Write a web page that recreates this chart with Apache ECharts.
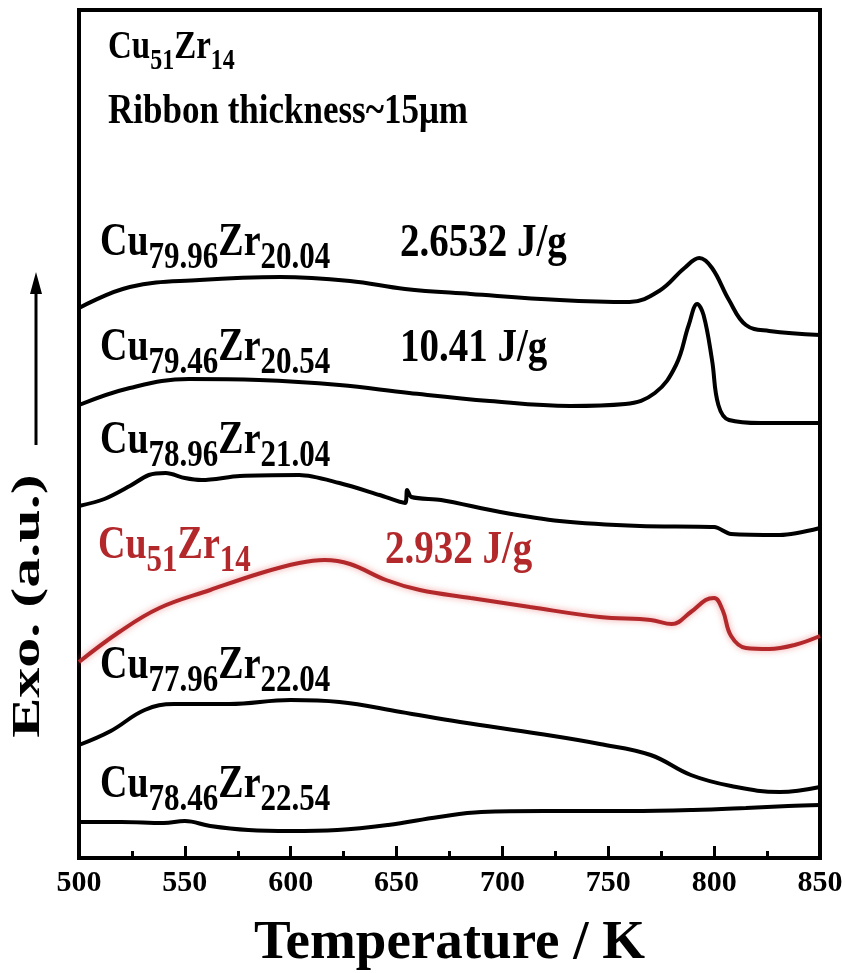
<!DOCTYPE html>
<html><head><meta charset="utf-8">
<script src="https://cdn.jsdelivr.net/npm/echarts@6/dist/echarts.min.js"></script>
<style>html,body{margin:0;padding:0;background:#fff}#c{width:845px;height:973px}</style>
</head><body><div id="c"></div>
<script>
// Temperature (K) and heat-flow signal (a.u., offset traces)
const T_7996 = [500,524,557,595,628,654,685,727,760,774,786,793,799,807,815,826,850];
const Y_7996 = [550,571,578,581,577,569,564,558,556,567,590,600,590,558,533,527,523];

const T_7946 = [500,524,552,585,623,656,694,732,758,772,782,788,792,795,799,802,807,822,850];
const Y_7946 = [453,470,479,478,473,465,457,452,454,465,493,533,554,543,498,453,438,435,435];

const T_7896 = [500,512,524,533,541,550,558,576,604,623,642,654,655,657,671,699,727,765,800,808,831,850];
const Y_7896 = [352,359,372,383,385,380,378,382,383,375,363,355,368,361,358,346,337,332,331,324,323,330];

const T_5114 = [500,519,538,562,586,604,616,628,645,661,685,713,746,770,780,789,796,800,804,808,815,826,838,850];
const Y_5114 = [196,226,250,268,285,295,298,294,278,268,260,251,241,238,234,246,258,260,248,222,210,209,213,222];

const T_7796 = [500,515,531,545,571,600,623,652,680,718,746,770,789,808,831,850];
const Y_7796 = [113,127,148,154,154,158,156,146,136,124,114,103,83,72,66,71];

const T_7846 = [500,520,540,550,562,580,600,622,646,670,690,720,760,790,815,835,850];
const Y_7846 = [36,36,35,37,32,28,27,28,33,41,46,47,47,48,50,52,53];

const X_MIN = 500, X_MAX = 850, X_STEP = 50;
const X_TITLE = 'Temperature / K';
const Y_TITLE = 'Exo. (a.u.)';

const zip = (a, b) => a.map((v, i) => [v, b[i]]);
const FONT = '"Liberation Serif","Times New Roman",serif';
const RED = '#b3282b';
const ctx = document.createElement('canvas').getContext('2d');
function textW(t, size) { ctx.font = 'bold ' + size + 'px ' + FONT; return ctx.measureText(t).width; }

// chemical formula label: parts alternate main / subscript
function formula(parts, x, cy, color, F, S, dy, sy) {
  const els = []; let cx = x;
  parts.forEach((p, i) => {
    const sub = i % 2 === 1, size = sub ? S : F;
    els.push({ type: 'text', x: cx, y: sub ? cy + dy : cy, z: 100, scaleY: sy || 1,
      style: { text: p, fontFamily: FONT, fontWeight: 'bold', fontSize: size, fill: color,
               textAlign: 'left', textVerticalAlign: 'middle' } });
    cx += textW(p, size);
  });
  return els;
}
function txt(t, x, cy, size, color, sy) {
  return { type: 'text', x: x, y: cy, z: 100, scaleY: sy || 1,
    style: { text: t, fontFamily: FONT, fontWeight: 'bold', fontSize: size, fill: color || '#000', textAlign: 'left', textVerticalAlign: 'middle' } };
}

const chart = echarts.init(document.getElementById('c'), null, { renderer: 'canvas' });
const lineBase = { type: 'line', smooth: 0.4, symbol: 'none', z: 5 };
const black = { color: '#000', width: 4 };
const SY = 1.2;
chart.setOption({
  animation: false,
  backgroundColor: '#fff',
  grid: { left: 79, right: 25, top: 10, bottom: 115, show: true, borderColor: '#000', borderWidth: 4,
          containLabel: false, outerBoundsMode: 'none' },
  xAxis: {
    type: 'value', min: X_MIN, max: X_MAX, interval: X_STEP,
    name: X_TITLE, nameLocation: 'middle', nameGap: 58,
    nameTextStyle: { fontFamily: FONT, fontWeight: 'bold', fontSize: 55, color: '#000' },
    axisLine: { show: true, lineStyle: { color: '#000', width: 4 } },
    axisTick: { show: true, inside: true, length: 12, lineStyle: { color: '#000', width: 3 } },
    minorTick: { show: true, splitNumber: 2, length: 7, lineStyle: { color: '#000', width: 3 } },
    axisLabel: { fontFamily: FONT, fontWeight: 'bold', fontSize: 30, color: '#000', margin: 10 },
    splitLine: { show: false }
  },
  yAxis: {
    type: 'value', min: 0, max: 848,
    axisLine: { show: false }, axisTick: { show: false }, axisLabel: { show: false }, splitLine: { show: false }
  },
  series: [
    Object.assign({}, lineBase, { name: 'Cu79.96Zr20.04', data: zip(T_7996, Y_7996), lineStyle: black }),
    Object.assign({}, lineBase, { name: 'Cu79.46Zr20.54', data: zip(T_7946, Y_7946), lineStyle: black }),
    Object.assign({}, lineBase, { name: 'Cu78.96Zr21.04', data: zip(T_7896, Y_7896), lineStyle: black, smooth: 0.3 }),
    Object.assign({}, lineBase, { name: 'Cu51Zr14', data: zip(T_5114, Y_5114),
      lineStyle: { color: RED, width: 4, shadowColor: 'rgba(230,80,80,0.55)', shadowBlur: 6 } }),
    Object.assign({}, lineBase, { name: 'Cu77.96Zr22.04', data: zip(T_7796, Y_7796), lineStyle: black }),
    Object.assign({}, lineBase, { name: 'Cu78.46Zr22.54', data: zip(T_7846, Y_7846), lineStyle: black })
  ],
  graphic: [].concat(
    formula(['Cu', '51', 'Zr', '14'], 108, 48, '#000', 33, 24, 14, SY),
    [txt('Ribbon thickness~15\u03bcm', 108, 112, 35, '#000', SY)],
    formula(['Cu', '79.96', 'Zr', '20.04'], 100, 243, '#000', 38, 31, 15, SY),
    [txt('2.6532 J/g', 400, 244, 39, '#000', SY)],
    formula(['Cu', '79.46', 'Zr', '20.54'], 100, 348, '#000', 38, 31, 15, SY),
    [txt('10.41 J/g', 400, 349, 39, '#000', SY)],
    formula(['Cu', '78.96', 'Zr', '21.04'], 100, 441, '#000', 38, 31, 15, SY),
    formula(['Cu', '51', 'Zr', '14'], 98, 546, RED, 38, 31, 15, SY),
    [txt('2.932 J/g', 385, 551, 39, RED, SY)],
    formula(['Cu', '77.96', 'Zr', '22.04'], 100, 666, '#000', 38, 31, 15, SY),
    formula(['Cu', '78.46', 'Zr', '22.54'], 100, 785, '#000', 38, 31, 15, SY),
    [
      { type: 'text', x: 29, y: 606, rotation: Math.PI / 2, scaleX: 1.5, z: 100,
        style: { text: Y_TITLE, fontFamily: FONT, fontWeight: 'bold', fontSize: 40, fill: '#000', textAlign: 'center', textVerticalAlign: 'middle' } },
      { type: 'line', z: 100, shape: { x1: 36, y1: 445, x2: 36, y2: 290 }, style: { stroke: '#000', lineWidth: 3 } },
      { type: 'polygon', z: 100, shape: { points: [[36, 272], [30, 294], [42, 294]] }, style: { fill: '#000' } }
    ]
  )
});
</script></body></html>
